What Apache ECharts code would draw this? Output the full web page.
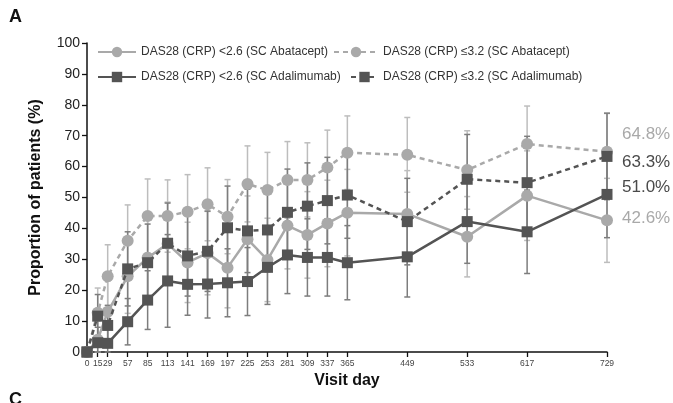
<!DOCTYPE html>
<html><head><meta charset="utf-8">
<script src="https://cdn.jsdelivr.net/npm/echarts@6/dist/echarts.min.js"></script>
<style>html,body{margin:0;padding:0;background:#fff}#c{width:673px;height:403px}</style>
</head><body><div id="c"></div>
<script>
// Visit days (x axis ticks)
const days = [0,15,29,57,85,113,141,169,197,225,253,281,309,337,365,449,533,617,729];
const yTicks = [0,10,20,30,40,50,60,70,80,90,100];

const nameAbaLt = 'DAS28 (CRP) <2.6 (SC Abatacept)';
const nameAbaLe = 'DAS28 (CRP) \u22643.2 (SC Abatacept)';
const nameAdaLt = 'DAS28 (CRP) <2.6 (SC Adalimumab)';
const nameAdaLe = 'DAS28 (CRP) \u22643.2 (SC Adalimumab)';

// Proportion of patients (%)
const abaLt = [0,4,13,24.5,30.5,35,29,32,27.3,36.5,29.8,40.9,37.9,41.6,45.1,44.7,37.3,50.6,42.6];
const abaLe = [0,12.7,24.5,36,44,44,45.4,47.8,43.8,54.4,52.4,55.7,55.7,59.7,64.5,63.8,58.9,67.3,64.8];
const adaLt = [0,3,2.8,9.8,16.8,23,21.9,22,22.4,22.8,27.4,31.4,30.6,30.6,28.9,30.8,42.2,38.9,51.0];
const adaLe = [0,11.6,8.6,26.9,28.9,35.2,31.1,32.6,40.2,39.2,39.5,45.2,47.2,49.0,50.8,42.2,55.9,54.8,63.3];

// 95% CI half widths
const abaLtErr = [0,6,10,12,13,13.5,13,13.5,13,14,13.5,14,14,14,14,14,13,14.5,13.6];
const abaLeErr = [0,8,10.2,11.6,12,11.7,12,11.8,12,12.3,12.2,12.4,12,12.1,11.9,12.1,12.7,12.3,12.4];
const adaLtErr = [0,5,5,7.5,9.5,15,10,11,11,11,12,12.5,12.5,12.5,12,13,13.5,13.5,14];
const adaLeErr = [0,7,6.5,12,12.5,13,13,13,13.5,13.5,13.5,14,14,14,14,14,14.5,15,14];

const LIGHT = '#a9a9a9', DARK = '#545454';
const LIGHT_ERR = '#bdbdbd', DARK_ERR = '#7d7d7d';
const FONT = 'Liberation Sans, Arial, Helvetica, sans-serif';

function pts(vals){ return days.map((d,i)=>[d, vals[i]]); }
function errs(vals, e){ return days.map((d,i)=>[d, Math.max(0, vals[i]-e[i]), Math.min(100, vals[i]+e[i])]); }

function errRender(color){
  return function(params, api){
    const x = api.value(0), lo = api.value(1), hi = api.value(2);
    if (hi - lo <= 0) return null;
    const p1 = api.coord([x, hi]), p2 = api.coord([x, lo]);
    const w = 3, st = {stroke: color, lineWidth: 1.5};
    return {type:'group', children:[
      {type:'line', shape:{x1:p1[0],y1:p1[1],x2:p2[0],y2:p2[1]}, style:st},
      {type:'line', shape:{x1:p1[0]-w,y1:p1[1],x2:p1[0]+w,y2:p1[1]}, style:st},
      {type:'line', shape:{x1:p2[0]-w,y1:p2[1],x2:p2[0]+w,y2:p2[1]}, style:st}
    ]};
  };
}

function lineSeries(name, vals, color, dashed, symbol, size, labelColor, dy, z){
  return {
    name, type:'line', data: pts(vals), symbol, symbolSize: size, z,
    itemStyle:{color}, lineStyle:{color, width:2.5, type: dashed ? [5,4] : 'solid'},
    endLabel:{show:true, formatter: p => p.value[1].toFixed(1) + '%', color: labelColor,
      fontSize:17, fontFamily: FONT, offset:[7, dy]},
    emphasis:{disabled:true}
  };
}

function legend(name, left, top, w){
  return {data:[name], left, top, itemWidth:w, itemHeight:13, padding:0, itemGap:0,
    selectedMode:false, textStyle:{fontSize:12, color:'#333', fontFamily:FONT}};
}

const chart = echarts.init(document.getElementById('c'));
chart.setOption({
  animation:false,
  backgroundColor:'#fff',
  textStyle:{fontFamily:FONT},
  grid:{left:87, right:66, top:43, bottom:51},
  legend:[
    legend(nameAbaLt, 97, 46, 38),
    legend(nameAbaLe, 333, 46, 44),
    legend(nameAdaLt, 97, 71, 38),
    legend(nameAdaLe, 350, 71, 27)
  ],
  graphic:[
    {type:'text', left:9, top:8, style:{text:'A', font:'bold 18px '+FONT, fill:'#111'}},
    {type:'text', left:9, top:391, style:{text:'C', font:'bold 18px '+FONT, fill:'#111'}}
  ],
  xAxis:{
    type:'value', min:0, max:729,
    name:'Visit day', nameLocation:'middle', nameGap:21,
    nameTextStyle:{fontSize:16, fontWeight:'bold', color:'#111', fontFamily:FONT},
    axisLine:{lineStyle:{color:'#111', width:1.5}},
    axisTick:{show:true, customValues: days, length:5, lineStyle:{color:'#111', width:1.3}},
    axisLabel:{customValues: days, fontSize:8.5, color:'#444', margin:7, hideOverlap:false},
    splitLine:{show:false}
  },
  yAxis:{
    type:'value', min:0, max:100, interval:10,
    name:'Proportion of patients (%)', nameLocation:'middle', nameGap:43,
    nameTextStyle:{fontSize:16, fontWeight:'bold', color:'#111', fontFamily:FONT},
    axisLine:{show:true, lineStyle:{color:'#111', width:1.5}},
    axisTick:{show:true, length:5, lineStyle:{color:'#111', width:1.3}},
    axisLabel:{fontSize:14, color:'#222', margin:7},
    splitLine:{show:false}
  },
  series:[
    {type:'custom', renderItem: errRender(LIGHT_ERR), data: errs(abaLe, abaLeErr), z:1, silent:true},
    {type:'custom', renderItem: errRender(LIGHT_ERR), data: errs(abaLt, abaLtErr), z:1, silent:true},
    {type:'custom', renderItem: errRender(DARK_ERR), data: errs(adaLe, adaLeErr), z:1, silent:true},
    {type:'custom', renderItem: errRender(DARK_ERR), data: errs(adaLt, adaLtErr), z:1, silent:true},
    lineSeries(nameAbaLt, abaLt, LIGHT, false, 'circle', 12, '#a9a9a9', -2, 3),
    lineSeries(nameAbaLe, abaLe, LIGHT, true, 'circle', 12, '#a9a9a9', -17, 3),
    lineSeries(nameAdaLt, adaLt, DARK, false, 'rect', 11, '#4a4a4a', -7, 4),
    lineSeries(nameAdaLe, adaLe, DARK, true, 'rect', 11, '#4a4a4a', 6, 4)
  ]
});
</script>
</body></html>
